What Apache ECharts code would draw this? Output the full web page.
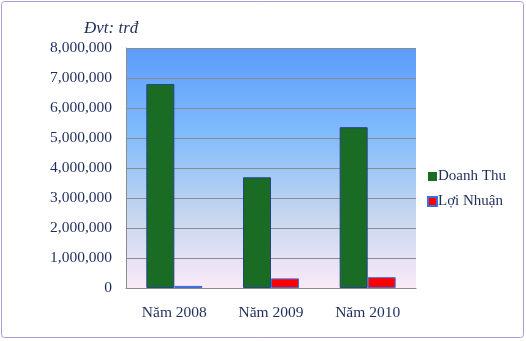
<!DOCTYPE html>
<html>
<head>
<meta charset="utf-8">
<script src="https://cdn.jsdelivr.net/npm/echarts@6/dist/echarts.min.js"></script>
<style>
html,body{margin:0;padding:0;background:#fff;}
#chart{width:526px;height:341px;}
</style>
</head>
<body>
<div id="chart"></div>
<script>
// Revenue and profit per year (unit: triệu đồng)
const categories = ['Năm 2008', 'Năm 2009', 'Năm 2010'];
const doanhThu = [6800000, 3690000, 5360000];
const loiNhuan = [70000, 320000, 360000];
const seriesNames = ['Doanh Thu', 'Lợi Nhuận'];
const unitLabel = 'Đvt: trđ';

const serif = '"Liberation Serif", "DejaVu Serif", serif';
const textColor = '#1f2d5c';

const chart = echarts.init(document.getElementById('chart'));
chart.setOption({
  animation: false,
  graphic: [
    {
      type: 'rect',
      shape: { x: 1.5, y: 1.5, width: 522, height: 336, r: 3 },
      style: { fill: 'none', stroke: '#b09ad0', lineWidth: 1 },
      z: -1
    },
    {
      type: 'text',
      left: 84, top: 20,
      style: { text: unitLabel, font: 'italic 17px ' + serif, fill: textColor }
    }
  ],
  grid: {
    left: 126, right: 110, top: 48, bottom: 53,
    show: true,
    borderWidth: 0,
    borderColor: 'transparent',
    backgroundColor: new echarts.graphic.LinearGradient(0, 0, 0, 1, [
      { offset: 0, color: '#5c9cfc' },
      { offset: 0.35, color: '#80bbfc' },
      { offset: 0.7, color: '#c6d6ef' },
      { offset: 1, color: '#faeaf8' }
    ])
  },
  legend: {
    orient: 'vertical',
    left: 422, top: 164,
    itemWidth: 9, itemHeight: 9, itemGap: 10,
    icon: 'rect',
    textStyle: { fontFamily: serif, fontSize: 15, color: textColor, padding: [0, 0, 0, -4] },
    data: [
      { name: seriesNames[0], itemStyle: { borderWidth: 0 } },
      { name: seriesNames[1] }
    ]
  },
  xAxis: {
    type: 'category',
    data: categories,
    axisLine: { lineStyle: { color: '#8c8c8c', width: 1 } },
    axisTick: { show: false },
    axisLabel: { fontFamily: serif, fontSize: 15.5, color: textColor, margin: 17 }
  },
  yAxis: {
    type: 'value',
    min: 0, max: 8000000, interval: 1000000,
    axisLine: { show: true, lineStyle: { color: '#8c8c8c' } },
    axisTick: { show: false },
    splitLine: { lineStyle: { color: '#8c8c8c', width: 1 } },
    axisLabel: {
      fontFamily: serif, fontSize: 15.5, color: textColor, margin: 14,
      formatter: v => v.toLocaleString('en-US')
    }
  },
  series: [
    {
      name: seriesNames[0], type: 'bar', data: doanhThu,
      barWidth: 28, barGap: '0%',
      itemStyle: { color: '#1a6b24', borderColor: '#23438f', borderWidth: 1 }
    },
    {
      name: seriesNames[1], type: 'bar', data: loiNhuan,
      barWidth: 28,
      itemStyle: { color: '#ff0000', borderColor: '#3a6fe0', borderWidth: 1 }
    }
  ]
});
</script>
</body>
</html>
